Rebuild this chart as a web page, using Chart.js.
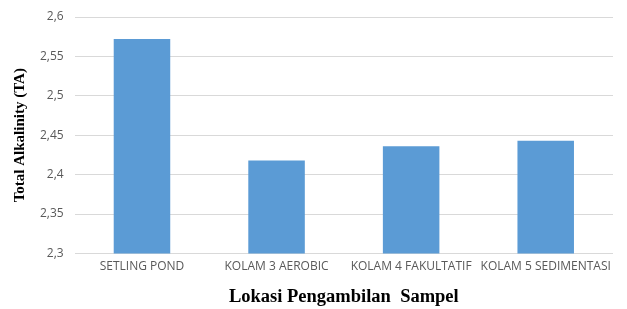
<!DOCTYPE html>
<html>
<head>
<meta charset="utf-8">
<script src="https://cdn.jsdelivr.net/npm/chart.js@4"></script>
<style>
  html, body { margin: 0; padding: 0; background: #fff; }
</style>
</head>
<body>
<canvas id="barChart" width="627" height="309"></canvas>
<script>
  // data
  var categories = ["SETLING POND", "KOLAM 3 AEROBIC", "KOLAM 4 FAKULTATIF", "KOLAM 5 SEDIMENTASI"];
  var taValues = [2.572, 2.418, 2.436, 2.443];
  var yMin = 2.3;
  var yMax = 2.6;
  var yStep = 0.05;

  var ctx = document.getElementById("barChart");
  var myChart = new Chart(ctx, {
    type: "bar",
    data: {
      labels: categories,
      datasets: [
        {
          label: "Total Alkalinity",
          data: taValues,
          backgroundColor: "#5B9BD5",
          borderWidth: 0,
          categoryPercentage: 1,
          barPercentage: 0.42,
        },
      ],
    },
    options: {
      responsive: false,
      animation: false,
      layout: { padding: { top: 1, right: 14, left: 7, bottom: 1 } },
      plugins: {
        legend: { display: false },
        tooltip: { enabled: false },
      },
      scales: {
        x: {
          grid: { display: false, drawTicks: false },
          border: { display: false },
          ticks: {
            color: "#595959",
            font: { family: "Open Sans", size: 12 },
            padding: 6,
            maxRotation: 0,
            autoSkip: false,
          },
          title: {
            display: true,
            text: "Lokasi Pengambilan  Sampel",
            color: "#000",
            font: { family: "Liberation Serif", size: 18.5, weight: "bold" },
            padding: { top: 6, bottom: 0 },
          },
        },
        y: {
          min: yMin,
          max: yMax,
          grid: { color: "#d9d9d9", drawTicks: false },
          border: { display: false },
          ticks: {
            stepSize: yStep,
            color: "#595959",
            font: { family: "Open Sans", size: 12, lineHeight: 1 },
            padding: 11,
            callback: function (v) {
              return String(Number(v.toFixed(2))).replace(".", ",");
            },
          },
          title: {
            display: true,
            text: "Total Alkalinity (TA)",
            color: "#000",
            font: { family: "Liberation Serif", size: 15, weight: "bold" },
            padding: { top: 4, bottom: 0 },
          },
        },
      },
    },
  });
</script>
</body>
</html>
